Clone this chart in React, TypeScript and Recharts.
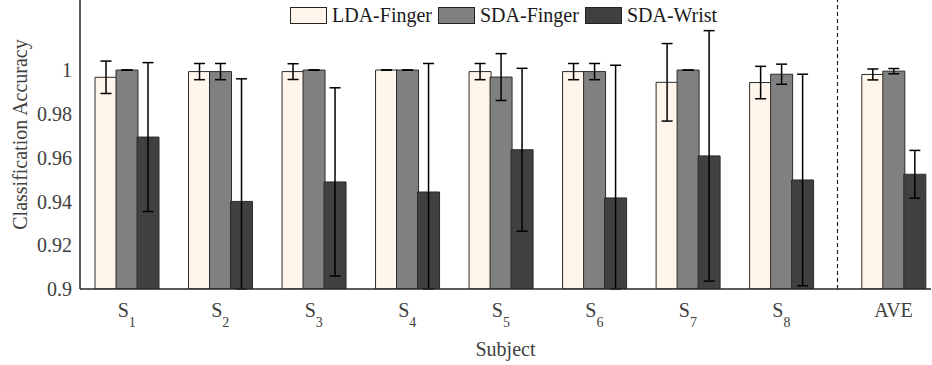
import React from 'react';
import { BarChart, Bar, XAxis, YAxis, ErrorBar, ReferenceLine, Legend } from 'recharts';

// ---------- data ----------
const subjects = ['S1', 'S2', 'S3', 'S4', 'S5', 'S6', 'S7', 'S8', 'AVE'];
const subjectPos = [1, 2, 3, 4, 5, 6, 7, 8, 9.2];
const dividerPos = 8.6;

const ldaFinger = [0.9967, 0.9993, 0.9993, 1.0, 0.9993, 0.9993, 0.9944, 0.9943, 0.998];
const ldaFingerErr = [0.0074, 0.0037, 0.0036, 0, 0.0037, 0.0037, 0.0177, 0.0074, 0.0025];
const sdaFinger = [1.0, 0.9993, 1.0, 1.0, 0.9968, 0.9993, 1.0, 0.9981, 0.9995];
const sdaFingerErr = [0, 0.0037, 0, 0, 0.0107, 0.0037, 0, 0.0046, 0.0012];
const sdaWrist = [0.9694, 0.94, 0.9489, 0.9443, 0.9636, 0.9416, 0.9608, 0.9498, 0.9524];
const sdaWristErr = [0.034, 0.056, 0.043, 0.0587, 0.0372, 0.0606, 0.0572, 0.0483, 0.0109];

const yTicks = [0.9, 0.92, 0.94, 0.96, 0.98, 1];
const yMin = 0.9;
const yMax = 1.032;

const series = [
  { key: 'lda', err: 'ldaErr', name: 'LDA-Finger', color: '#FFF5EA' },
  { key: 'sdaF', err: 'sdaFErr', name: 'SDA-Finger', color: '#808080' },
  { key: 'sdaW', err: 'sdaWErr', name: 'SDA-Wrist', color: '#404040' },
];

const data = subjects.map((s, i) => ({
  subject: s,
  pos: subjectPos[i],
  lda: ldaFinger[i],
  ldaErr: ldaFingerErr[i],
  sdaF: sdaFinger[i],
  sdaFErr: sdaFingerErr[i],
  sdaW: sdaWrist[i],
  sdaWErr: sdaWristErr[i],
}));

const FONT = '"Liberation Serif", "Times New Roman", Times, serif';
const TEXT = '#404040';

const XTick = (props: any) => {
  const { x, y, payload } = props;
  const idx = subjectPos.indexOf(payload.value);
  const label = idx >= 0 ? subjects[idx] : '';
  const isS = /^S\d+$/.test(label);
  return (
    <text x={x} y={y + 28} textAnchor="middle" fontFamily={FONT} fontSize={20} fill={TEXT}>
      {isS ? (
        <>
          S<tspan fontSize={14} dy={10}>{label.slice(1)}</tspan>
        </>
      ) : (
        label
      )}
    </text>
  );
};

const LegendContent = () => (
  <div
    style={{
      display: 'flex',
      alignItems: 'center',
      fontFamily: FONT,
      fontSize: 20,
      color: '#1a1a1a',
      height: 17,
      whiteSpace: 'nowrap',
    }}
  >
    {series.map((s) => (
      <div key={s.key} style={{ display: 'flex', alignItems: 'center', marginRight: 6 }}>
        <span
          style={{
            display: 'inline-block',
            boxSizing: 'border-box',
            width: 37,
            height: 17,
            background: s.color,
            border: '1px solid #222',
            marginRight: 5,
          }}
        />
        <span>{s.name}</span>
      </div>
    ))}
  </div>
);

const errAccessor = (valKey: string, errKey: string) => (d: any) => [
  Math.min(d[errKey], d[valKey] - yMin),
  d[errKey],
];

export default function App() {
  return (
    <div style={{ position: 'absolute', left: 0, top: 0, background: '#fff' }}>
      <BarChart
        width={932}
        height={365}
        data={data}
        margin={{ top: 0, right: 1, bottom: 16, left: 0 }}
        barGap={-1}
      >
        <XAxis
          dataKey="pos"
          type="number"
          domain={[0.5, 9.6]}
          ticks={subjectPos}
          allowDataOverflow
          interval={0}
          tickLine={false}
          tickSize={0}
          tickMargin={0}
          height={60}
          tick={<XTick />}
          axisLine={{ stroke: '#262626', strokeWidth: 1.5 }}
          label={{
            content: (p: any) => {
              const vb = p.viewBox;
              return (
                <text
                  x={vb.x + vb.width / 2}
                  y={vb.y + 67}
                  textAnchor="middle"
                  fontFamily={FONT}
                  fontSize={20}
                  fill={TEXT}
                >
                  Subject
                </text>
              );
            },
          }}
        />
        <YAxis
          type="number"
          domain={[yMin, yMax]}
          ticks={yTicks}
          allowDataOverflow
          width={80}
          tickLine={false}
          tickSize={0}
          tickMargin={8}
          tickFormatter={(v: number) => String(+v.toFixed(2))}
          tick={{ fontFamily: FONT, fontSize: 20, fill: TEXT }}
          axisLine={{ stroke: '#262626', strokeWidth: 1.5 }}
          label={{
            content: (p: any) => {
              const vb = p.viewBox;
              return (
                <text
                  transform={`translate(27, ${vb.y + vb.height / 2 - 10}) rotate(-90)`}
                  textAnchor="middle"
                  fontFamily={FONT}
                  fontSize={20}
                  fill={TEXT}
                >
                  Classification Accuracy
                </text>
              );
            },
          }}
        />
        <Legend
          layout="horizontal"
          verticalAlign="middle"
          align="center"
          wrapperStyle={{ left: 290, top: 7, width: 'auto', height: 17 }}
          content={<LegendContent />}
        />
        <ReferenceLine x={dividerPos} stroke="#222" strokeDasharray="4 3" strokeWidth={1.2} />
        {series.map((s) => (
          <Bar
            key={s.key}
            dataKey={s.key}
            name={s.name}
            fill={s.color}
            stroke="#2b2b2b"
            strokeWidth={1}
            barSize={22}
            isAnimationActive={false}
          >
            <ErrorBar
              dataKey={errAccessor(s.key, s.err)}
              direction="y"
              width={5.5}
              stroke="#000"
              strokeWidth={1.5}
              isAnimationActive={false}
            />
          </Bar>
        ))}
      </BarChart>
    </div>
  );
}
